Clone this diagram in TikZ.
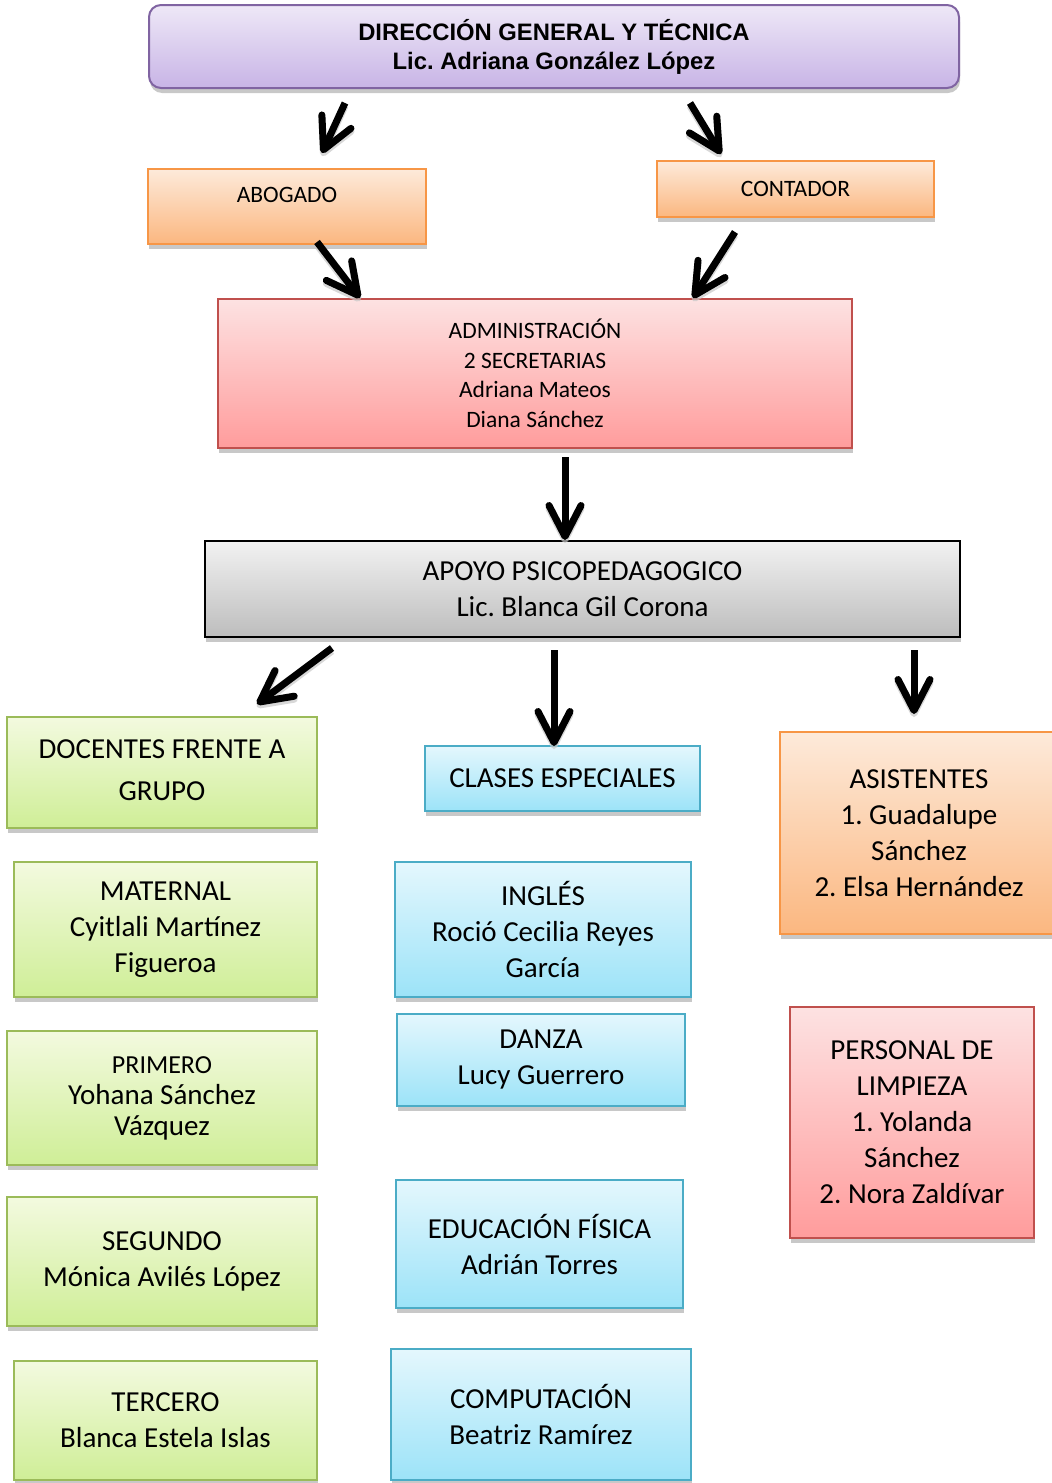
\documentclass[tikz,border=0pt]{standalone}
\usepackage{fontspec}
\setmainfont{Carlito}
\newfontfamily\arialfont{Liberation Sans}
\usetikzlibrary{arrows.meta,shadows}
\frenchspacing
\definecolor{lavtop}{HTML}{EEE8F7}
\definecolor{lavbot}{HTML}{C8B4E6}
\definecolor{lavline}{HTML}{8064A2}
\definecolor{ortop}{HTML}{FDEADA}
\definecolor{orbot}{HTML}{FBB780}
\definecolor{orline}{HTML}{F79646}
\definecolor{rdtop}{HTML}{FDE2E2}
\definecolor{rdbot}{HTML}{FF9C9C}
\definecolor{rdline}{HTML}{C0504D}
\definecolor{gytop}{HTML}{F2F2F2}
\definecolor{gybot}{HTML}{BDBDBD}
\definecolor{grtop}{HTML}{F3FADF}
\definecolor{grbot}{HTML}{CFEE97}
\definecolor{grline}{HTML}{9BBB59}
\definecolor{bltop}{HTML}{E4F7FD}
\definecolor{blbot}{HTML}{9CE3F8}
\definecolor{blline}{HTML}{4BACC6}
\definecolor{shcol}{HTML}{C8C8C8}
\tikzset{
  basebox/.style={rectangle, inner sep=0pt, align=center, line width=2pt,
    drop shadow={shadow xshift=1pt, shadow yshift=-5pt, fill=shcol, opacity=1}},
  lavbox/.style={basebox, top color=lavtop, bottom color=lavbot, draw=lavline, rounded corners=12pt},
  orbox/.style={basebox, top color=ortop, bottom color=orbot, draw=orline},
  rdbox/.style={basebox, top color=rdtop, bottom color=rdbot, draw=rdline},
  gybox/.style={basebox, top color=gytop, bottom color=gybot, draw=black},
  grbox/.style={basebox, top color=grtop, bottom color=grbot, draw=grline},
  blbox/.style={basebox, top color=bltop, bottom color=blbot, draw=blline},
  smalltext/.style={font=\fontsize{23.5}{29.5}\selectfont},
  bigtext/.style={font=\fontsize{29}{36}\selectfont},
  bigarrow/.style={line width=7pt, -{Straight Barb[length=31pt,width=32pt,round]}},
}
\begin{document}
\begin{tikzpicture}[x=1pt,y=-1pt]
\useasboundingbox (0,0) rectangle (1052,1483);
% boxes
\node[lavbox, minimum width=810, minimum height=83,
  font=\arialfont\bfseries\fontsize{23.8}{29}\selectfont] (dir) at (554,46.5)
  {DIRECCIÓN GENERAL Y TÉCNICA\\Lic. Adriana González López};
\node[orbox, minimum width=278, minimum height=75,
  label={[anchor=base, yshift=-34pt, smalltext]north:ABOGADO}] (abog) at (287,206.5) {};
\node[orbox, minimum width=277, minimum height=56, smalltext] (cont) at (795.5,189) {CONTADOR};
\node[rdbox, minimum width=634, minimum height=149, smalltext] (admin) at (535,373.5)
  {ADMINISTRACIÓN\\2 SECRETARIAS\\Adriana Mateos\\Diana Sánchez};
\node[gybox, minimum width=755, minimum height=96, bigtext] (apoyo) at (582.5,589)
  {APOYO PSICOPEDAGOGICO\\Lic. Blanca Gil Corona};
\node[grbox, minimum width=310, minimum height=111, font=\fontsize{29}{42}\selectfont] (doc) at (162,772.5)
  {\raisebox{4pt}{DOCENTES FRENTE A}\\\raisebox{4pt}{GRUPO}};
\node[blbox, minimum width=275, minimum height=65, bigtext] (clases) at (562.5,778.5)
  {CLASES ESPECIALES};
\node[orbox, minimum width=278, minimum height=202, bigtext] (asist) at (919,833)
  {ASISTENTES\\1. Guadalupe\\Sánchez\\2. Elsa Hernández};
\node[grbox, minimum width=303, minimum height=135, bigtext] (mat) at (165.5,929.5)
  {MATERNAL\\Cyitlali Martínez\\Figueroa};
\node[blbox, minimum width=296, minimum height=135, bigtext] (ing) at (543,929.5)
  {INGLÉS\\Roció Cecilia Reyes\\García};
\node[blbox, minimum width=288, minimum height=92, bigtext] (danza) at (541,1060)
  {DANZA\\Lucy Guerrero};
\node[rdbox, minimum width=244, minimum height=231, bigtext] (pers) at (912,1122.5)
  {PERSONAL DE\\LIMPIEZA\\1. Yolanda\\Sánchez\\2. Nora Zaldívar};
\node[grbox, minimum width=310, minimum height=134, font=\fontsize{29}{31}\selectfont] (prim) at (162,1098)
  {{\fontsize{26}{31}\selectfont PRIMERO}\\Yohana Sánchez\\Vázquez};
\node[grbox, minimum width=310, minimum height=129, bigtext] (seg) at (162,1261.5)
  {SEGUNDO\\Mónica Avilés López};
\node[blbox, minimum width=287, minimum height=128, bigtext] (edu) at (539.5,1244)
  {EDUCACIÓN FÍSICA\\Adrián Torres};
\node[grbox, minimum width=303, minimum height=119, bigtext] (terc) at (165.5,1420.5)
  {TERCERO\\Blanca Estela Islas};
\node[blbox, minimum width=300, minimum height=131, bigtext] (comp) at (541,1414.5)
  {COMPUTACIÓN\\Beatriz Ramírez};
% arrow end points
\coordinate (a1s) at (345,103); \coordinate (a1e) at (322,153);
\coordinate (a2s) at (690,103); \coordinate (a2e) at (721,154);
\coordinate (a3s) at (317,242); \coordinate (a3e) at (360,298);
\coordinate (a4s) at (735,232); \coordinate (a4e) at (693,298);
\coordinate (a5s) at (565,457); \coordinate (a5e) at (565,540);
\coordinate (a6s) at (332,648); \coordinate (a6e) at (257,704);
\coordinate (a7s) at (554,650); \coordinate (a7e) at (554,746);
\coordinate (a8s) at (914,650); \coordinate (a8e) at (914,714);
\foreach \i in {1,...,8}{
  \draw[bigarrow, draw=shcol, opacity=0.7, transform canvas={yshift=-3pt}] (a\i s) -- (a\i e);
  \draw[bigarrow] (a\i s) -- (a\i e);
}
\end{tikzpicture}
\end{document}
